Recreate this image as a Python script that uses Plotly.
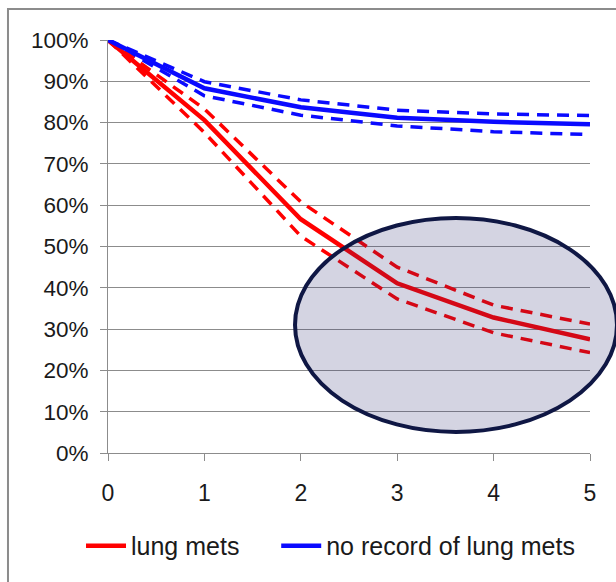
import plotly.graph_objects as go

years = [0, 1, 2, 3, 4, 5]

lung_mets = [100, 80.6, 56.6, 41.1, 32.8, 27.5]
lung_mets_upper = [100, 83.3, 60.8, 45.0, 35.8, 31.2]
lung_mets_lower = [100, 77.6, 52.5, 37.3, 29.1, 24.3]

no_record = [100, 88.3, 83.7, 81.2, 80.2, 79.6]
no_record_upper = [100, 89.9, 85.5, 83.0, 82.1, 81.7]
no_record_lower = [100, 86.5, 81.8, 79.2, 77.8, 77.1]

tick_vals = [0, 10, 20, 30, 40, 50, 60, 70, 80, 90, 100]
tick_text = [f"{v}%" for v in tick_vals]

RED = "#ff0000"
BLUE = "#0a0aff"
FONT = "Liberation Sans"

fig = go.Figure()

def add(y, color, dash, width, name=None, show=False, legend="legend"):
    fig.add_trace(go.Scatter(
        x=years, y=y, mode="lines", name=name, showlegend=show, legend=legend,
        line=dict(color=color, width=width, dash=dash),
        cliponaxis=False, hoverinfo="skip"))

add(no_record_upper, BLUE, "12px,8px", 3.5)
add(no_record_lower, BLUE, "12px,8px", 3.5)
add(lung_mets_upper, RED, "12px,8px", 3.5)
add(lung_mets_lower, RED, "12px,8px", 3.5)
add(lung_mets, RED, "solid", 4.5, "lung mets", True, "legend")
add(no_record, BLUE, "solid", 4.5, "no record of lung mets", True, "legend2")

legend_common = dict(orientation="h", y=-0.225, xanchor="left", yanchor="middle",
                     font=dict(size=25, family=FONT, color="#1a1a1a"),
                     itemwidth=40, bgcolor="rgba(0,0,0,0)")

fig.update_layout(
    width=616, height=582,
    margin=dict(l=108, r=26, t=40, b=129),
    paper_bgcolor="white", plot_bgcolor="white",
    font=dict(family=FONT, size=22, color="#1a1a1a"),
    xaxis=dict(range=[0, 5], tickvals=years, ticktext=[str(v) for v in years],
               showgrid=False, zeroline=False, showline=True, linecolor="#8c8c8c",
               linewidth=1, ticks="outside", ticklen=7, tickcolor="#8c8c8c",
               ticklabelstandoff=12, tickfont=dict(size=23)),
    yaxis=dict(range=[0, 100], tickvals=tick_vals, ticktext=tick_text,
               showgrid=True, gridcolor="#8c8c8c", gridwidth=1, zeroline=False,
               showline=True, linecolor="#8c8c8c", linewidth=1,
               ticks="outside", ticklen=7, tickcolor="#8c8c8c",
               ticklabelstandoff=7, tickfont=dict(size=22.5)),
    legend=dict(x=-0.056, **legend_common),
    legend2=dict(x=0.349, **legend_common),
    shapes=[
        dict(type="rect", xref="paper", yref="paper",
             x0=-0.2075, x1=1.08, y0=-0.35, y1=1.075,
             line=dict(color="#8c8c8c", width=2), fillcolor="rgba(0,0,0,0)",
             layer="below"),
        dict(type="circle", xref="paper", yref="paper",
             x0=0.388, x1=1.056, y0=0.051, y1=0.569,
             line=dict(color="#0f1744", width=4),
             fillcolor="rgba(40,40,110,0.2)", layer="above"),
    ],
)

fig.write_html("out.html")
